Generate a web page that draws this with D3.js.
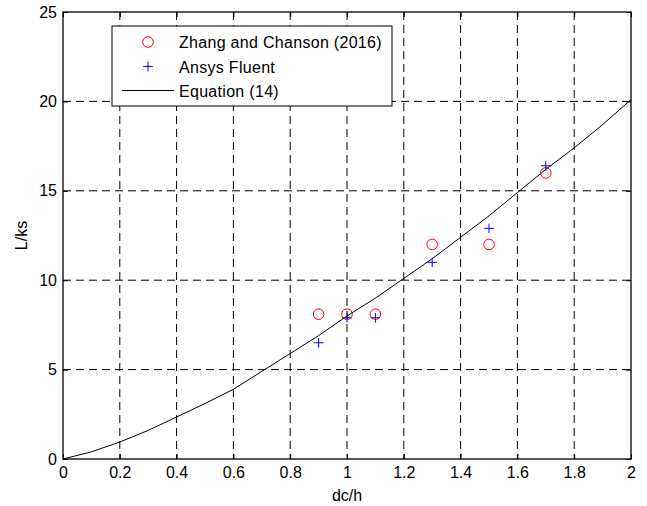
<!DOCTYPE html>
<html>
<head>
<meta charset="utf-8">
<script src="https://cdn.jsdelivr.net/npm/d3@7"></script>
<style>
  body { margin: 0; background: #fff; }
  text { font-family: "Liberation Sans", Arial, sans-serif; }
</style>
</head>
<body>
<svg id="chart" width="647" height="506"></svg>
<script>
// measured data
var zhangX = [0.9, 1.0, 1.1, 1.3, 1.5, 1.7];
var zhangY = [8.1, 8.1, 8.1, 12.0, 12.0, 16.0];
var fluentX = [0.9, 1.0, 1.1, 1.3, 1.5, 1.7];
var fluentY = [6.5, 7.9, 7.9, 11.0, 12.9, 16.4];
var eqX = [0, 0.1, 0.2, 0.3, 0.4, 0.5, 0.6, 0.7, 0.8, 0.9, 1.0, 1.1, 1.2, 1.3, 1.4, 1.5, 1.6, 1.7, 1.8, 1.9, 2.0];
var eqY = [0, 0.4, 0.95, 1.6, 2.35, 3.1, 3.9, 4.9, 5.9, 6.9, 8.0, 9.0, 10.1, 11.2, 12.4, 13.6, 14.9, 16.2, 17.4, 18.7, 20.1];
var xTicks = [0, 0.2, 0.4, 0.6, 0.8, 1, 1.2, 1.4, 1.6, 1.8, 2];
var yTicks = [0, 5, 10, 15, 20, 25];
var legendLabels = ['Zhang and Chanson (2016)', 'Ansys Fluent', 'Equation (14)'];

var svg = d3.select('#chart');
var margin = { top: 12, right: 16, bottom: 47, left: 63 };
var width = 647 - margin.left - margin.right;
var height = 506 - margin.top - margin.bottom;
var fontSize = 16;

var x = d3.scaleLinear().domain([0, 2]).range([0, width]);
var y = d3.scaleLinear().domain([0, 25]).range([height, 0]);

var g = svg.append('g')
  .attr('transform', 'translate(' + margin.left + ',' + margin.top + ')');

// grid
g.selectAll('.vgrid')
  .data(xTicks.slice(1, -1))
  .enter().append('line')
  .attr('x1', function(d) { return x(d); })
  .attr('x2', function(d) { return x(d); })
  .attr('y1', 0).attr('y2', height)
  .attr('stroke', '#000').attr('stroke-width', 1)
  .attr('stroke-dasharray', '8,5');
g.selectAll('.hgrid')
  .data(yTicks.slice(1, -1))
  .enter().append('line')
  .attr('y1', function(d) { return y(d); })
  .attr('y2', function(d) { return y(d); })
  .attr('x1', 0).attr('x2', width)
  .attr('stroke', '#000').attr('stroke-width', 1)
  .attr('stroke-dasharray', '8,5');

// axes (inward ticks on all sides)
function styleAxis(sel) {
  sel.select('.domain').remove();
  sel.selectAll('text').attr('font-size', fontSize).attr('fill', '#000')
    .style('font-family', '"Liberation Sans", Arial, sans-serif');
  sel.selectAll('line').attr('stroke', '#000');
}
g.append('g').attr('transform', 'translate(0,' + height + ')')
  .call(d3.axisBottom(x).tickValues(xTicks).tickSizeInner(-5).tickSizeOuter(0).tickPadding(8)
    .tickFormat(d3.format('')))
  .call(styleAxis);
g.append('g')
  .call(d3.axisTop(x).tickValues(xTicks).tickSizeInner(-5).tickSizeOuter(0).tickFormat(''))
  .call(styleAxis);
g.append('g')
  .call(d3.axisLeft(y).tickValues(yTicks).tickSizeInner(-5).tickSizeOuter(0).tickPadding(6))
  .call(styleAxis);
g.append('g').attr('transform', 'translate(' + width + ',0)')
  .call(d3.axisRight(y).tickValues(yTicks).tickSizeInner(-5).tickSizeOuter(0).tickFormat(''))
  .call(styleAxis);

g.append('rect')
  .attr('width', width).attr('height', height)
  .attr('fill', 'none').attr('stroke', '#000').attr('stroke-width', 1.3);

// equation line
var line = d3.line()
  .x(function(d, i) { return x(eqX[i]); })
  .y(function(d) { return y(d); });
g.append('path')
  .attr('d', line(eqY))
  .attr('fill', 'none').attr('stroke', '#000').attr('stroke-width', 1);

// Zhang and Chanson circles
g.selectAll('.zhang')
  .data(zhangY)
  .enter().append('circle')
  .attr('cx', function(d, i) { return x(zhangX[i]); })
  .attr('cy', function(d) { return y(d); })
  .attr('r', 5.3)
  .attr('fill', 'none').attr('stroke', '#ff0000').attr('stroke-width', 1);

// Ansys Fluent plus markers
function plusPath(cx, cy, s) {
  return 'M' + (cx - s) + ',' + cy + 'H' + (cx + s) + 'M' + cx + ',' + (cy - s) + 'V' + (cy + s);
}
g.selectAll('.fluent')
  .data(fluentY)
  .enter().append('path')
  .attr('d', function(d, i) { return plusPath(x(fluentX[i]), y(d), 4.8); })
  .attr('fill', 'none').attr('stroke', '#0000ff').attr('stroke-width', 1);

// axis labels
svg.append('text')
  .attr('x', margin.left + width / 2).attr('y', 501)
  .attr('text-anchor', 'middle').attr('font-size', fontSize)
  .text('dc/h');
svg.append('text')
  .attr('transform', 'translate(27,' + (margin.top + height / 2) + ') rotate(-90)')
  .attr('text-anchor', 'middle').attr('font-size', fontSize)
  .text('L/ks');

// legend
var legend = svg.append('g').attr('transform', 'translate(112,26)');
legend.append('rect')
  .attr('width', 280).attr('height', 80)
  .attr('fill', '#fff').attr('stroke', '#000').attr('stroke-width', 1);
var rowY = [16, 40.5, 64.5];
legend.append('circle')
  .attr('cx', 36).attr('cy', rowY[0]).attr('r', 5.3)
  .attr('fill', 'none').attr('stroke', '#ff0000');
legend.append('path')
  .attr('d', plusPath(36, rowY[1], 4.8))
  .attr('stroke', '#0000ff').attr('fill', 'none');
legend.append('line')
  .attr('x1', 10).attr('x2', 62).attr('y1', rowY[2]).attr('y2', rowY[2])
  .attr('stroke', '#000');
legend.selectAll('.lbl')
  .data(legendLabels)
  .enter().append('text')
  .attr('x', 67)
  .attr('y', function(d, i) { return rowY[i] + 6; })
  .attr('font-size', fontSize)
  .attr('letter-spacing', 0.3)
  .text(function(d) { return d; });
</script>
</body>
</html>
